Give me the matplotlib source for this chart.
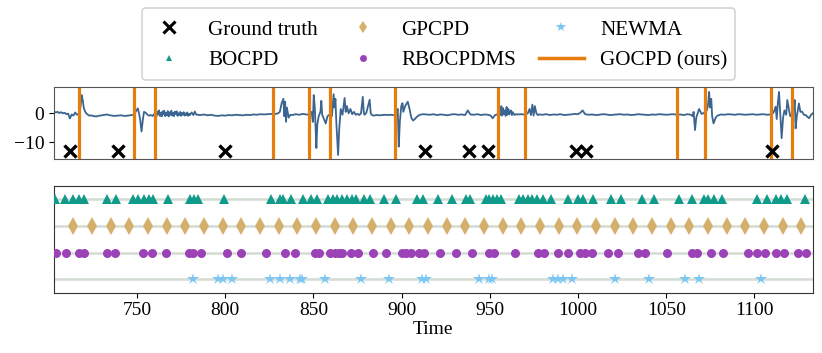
import matplotlib
matplotlib.use("Agg")
import matplotlib.pyplot as plt
from matplotlib.lines import Line2D
from matplotlib.patches import FancyBboxPatch
from matplotlib.transforms import IdentityTransform

plt.rcParams['font.family'] = ['Liberation Serif', 'DejaVu Serif']
plt.rcParams['mathtext.fontset'] = 'stix'
plt.rcParams['font.size'] = 14

# signal as (time, value) pairs
signal = [
    (703, 0.6), (704, 0.3), (705, 0.5), (706, 0.1), (707, 0.4), (708, 0.0), (709, 0.2),
    (710, -0.3), (711, -0.1), (712, -1.8), (713, -0.4), (714, -0.8), (715, 0.3), (716, -0.5),
    (717, -0.2), (718, 2.0), (718.7, 6.3), (719.3, 4.5), (720, 1.5), (721, 0.2), (722, -0.4),
    (723, -0.8), (724, -0.7), (725, -0.9), (726, -1.0), (727, -1.1), (728, -0.9), (729, -0.8),
    (731, -0.6), (732, -0.5), (733, -0.4), (734, -0.6), (735, -0.7), (737, -0.9), (739, -0.8),
    (741, -0.7), (743, -0.9), (745, -0.8), (747, -0.6),
    (748.5, -0.4), (749.5, 0.8), (750.5, 1.7), (751, 0.5), (751.8, -2.0), (752.6, -6.3),
    (753.3, -2.5), (754, 0.5), (755, 0.2), (756, -0.5), (757, -0.8), (758, -0.6), (759, -0.9),
    (760.5, 0.3), (761, -1.2), (761.5, 0.6), (762, -0.4), (762.5, 1.0), (763, -0.9),
    (763.5, 0.2), (764, -1.1), (764.5, 0.7), (765, -0.3), (765.5, 0.9), (766, -1.0),
    (766.5, 0.1), (767, -0.7), (767.5, 0.8), (768, -1.1), (768.5, 0.3), (769, -0.5),
    (769.5, 0.9), (770, -0.8), (770.5, 0.2), (771, -1.0), (771.5, 0.6), (772, -0.2),
    (772.5, 0.7), (773, -0.9), (773.5, 0.0), (774, -0.6), (774.5, 0.5), (775, -0.9),
    (775.5, 0.1), (776, -0.5), (776.5, 0.4), (777, -0.8), (777.5, -0.1), (778, -0.6),
    (778.5, 0.3), (779, -0.9), (779.5, -0.2), (780, -0.6), (781, 0.3), (782, -0.6),
    (782.8, 0.6), (783.5, -0.3), (784, -0.5), (786, -0.6), (788, -0.4), (790, -0.7),
    (792, -0.5), (794, -0.8), (796, -0.9), (798, -0.7), (800, -0.8), (802, -0.6), (804, -0.7),
    (806, -0.5), (808, -0.6), (810, -0.7), (812, -0.5), (814, -0.6), (816, -0.4), (818, -0.5),
    (820, -0.3), (822, -0.4), (824, -0.3), (826, -0.2), (828, -0.3), (830, 0.0), (831, 0.5),
    (832, 3.5), (833, 5.0), (833.5, -1.0), (834, 4.0), (834.5, -2.9), (835, 2.0), (836, -1.5),
    (837, -0.5), (838, -0.6), (840, -0.3), (842, -0.5), (844, -0.2), (846, -0.4), (848, -0.5),
    (849, 0.5), (849.7, -3.0), (850.2, 6.3), (850.8, 2.0), (851.3, -6.0), (851.7, -12.0),
    (852.2, -4.0), (853, -1.0), (854, 0.5), (854.5, 4.3), (855, -0.5), (856, -2.0),
    (857, -3.5), (858, -1.0), (859, -0.5), (860.5, -1.0), (861.5, 6.6), (862, 2.0),
    (862.5, 5.0), (863, -3.0), (864, -14.4), (864.7, -5.0), (865.5, 1.5), (866.5, -0.5),
    (867.2, 3.0), (867.7, 5.3), (868.3, 0.5), (869, 2.5), (870, 0.0), (871, 1.5), (872, -0.3),
    (873, 0.5), (874, -0.5), (875, -0.2), (876, -0.6), (877, 0.0), (878, 5.7), (878.6, 0.2),
    (879, -0.5), (880, 0.2), (881.9, 4.7), (882.5, 0.0), (883, -0.5), (884, -0.8),
    (886, -0.6), (888, -0.7), (890, -0.5), (892, -0.6), (894, -0.5), (896, -0.7),
    (897, -0.3), (897.8, 1.5), (898.4, -11.5), (899, -3.0), (899.8, 2.5), (900.5, 3.5),
    (901, 0.5), (902, 2.5), (903.5, 4.0), (904.5, 1.5), (905.5, -1.5), (906.5, -2.5),
    (907.5, -2.0), (908.5, -1.3), (910, -0.6), (912, -0.3), (914, -0.4), (916, -0.5),
    (918, -0.3), (920, -0.6), (922, -0.4), (924, -0.5), (926, -0.7), (928, -0.4), (930, -0.3),
    (932, -0.5), (934, -0.4), (936, -0.6), (937.5, 1.0), (939, -0.4), (941, -0.5), (943, -0.3),
    (945, -0.6), (947, -0.4), (949, -0.5), (950.5, -0.8), (951.6, -1.7), (953, -0.6),
    (955, -0.2), (955.5, 1.2), (956, -0.6), (956.5, 2.5), (957, -0.8), (957.5, 1.8),
    (958, -0.3), (958.5, 1.0), (959, -0.9), (959.5, 2.2), (960, -0.5), (960.5, 1.5),
    (961, -0.4), (961.5, 0.6), (962, 1.0), (962.5, -0.6), (963, 0.4), (964, -0.6), (964.8, -0.3),
    (966, -0.4), (968, -0.3), (970, -0.5), (971.5, 0.0), (972.5, 1.5), (973.3, -0.6),
    (974.1, 3.0), (974.8, -0.8), (975.5, 2.5), (976.4, 0.0), (977.2, -0.6), (978, -0.4),
    (980, -0.5), (982, -0.3), (984, -0.6), (986, -0.4), (988, -0.5), (990, -0.3), (992, -0.6),
    (994, -0.5), (996, -0.4), (998, -0.2), (1000, -0.3), (1001.5, 0.3), (1002.6, 1.0),
    (1004, -0.3), (1006, -0.5), (1008, -0.4), (1010, -0.6), (1012, -0.5), (1014, -0.3),
    (1016, -0.4), (1018, -0.6), (1020, -0.5), (1022, -0.4), (1024, -0.3), (1026, -0.5),
    (1028, -0.4), (1030, -0.6), (1032, -0.5), (1034, -0.3), (1036, -0.4), (1038, -0.5),
    (1040, -0.6), (1042, -0.4), (1044, -0.5), (1046, -0.3), (1048, -0.4), (1050, -0.5),
    (1052, -0.4), (1054, -0.3), (1056, -0.5), (1058, -0.4), (1060, -0.6), (1062, -0.3),
    (1064, -0.5), (1065, -1.0), (1065.5, 0.5), (1066.3, -5.8), (1067, -1.5), (1068.6, 1.5),
    (1070, -0.2), (1071, 0.0), (1073, 1.0), (1073.7, 3.0), (1074.3, 7.4), (1074.8, 2.0),
    (1075.5, 5.0), (1076, -1.0), (1076.8, -3.5), (1078, -1.5), (1079, -0.8), (1081, -0.4),
    (1083, -0.5), (1085, -0.3), (1087, -0.4), (1089, -0.5), (1091, -0.3), (1093, -0.4),
    (1095, -0.5), (1097, -0.4), (1099, -0.3), (1101, -0.5), (1103, -0.4), (1105, -0.3),
    (1107, -0.5), (1109, -0.4), (1110, -0.3), (1111, 0.5), (1112, 2.3), (1112.6, -2.0),
    (1113.3, 4.0), (1113.9, 7.4), (1114.5, 1.0), (1115.4, -8.6), (1116.2, -1.5), (1117, 1.0),
    (1118, -0.5), (1118.6, 4.6), (1119.6, 1.1), (1120.3, -1.0), (1121.5, 0.0), (1122.3, 2.0),
    (1122.8, 4.6), (1123.3, -5.2), (1124, -1.0), (1125.2, 3.4), (1126, 0.5), (1127, 0.6),
    (1128, -0.5), (1129, -0.6), (1130, -1.2), (1130.9, -1.7), (1132, -0.6), (1133, 0.0),
]
sig_t = [p[0] for p in signal]
sig_y = [p[1] for p in signal]

ground_truth = [712.1, 739.0, 799.8, 913.0, 938.4, 948.8, 998.8, 1004.5, 1109.7]
gocpd = [717.1, 748.3, 760.2, 827.1, 847.5, 859.6, 896.0, 954.4, 970.1, 1056.3,
         1071.8, 1109.5, 1121.0]
bocpd = [703.6, 709.2, 713.9, 717.1, 720.1, 733.2, 737.9, 747.9, 750.7, 753.9, 756.8,
         759.2, 767.7, 780.0, 782.4, 784.7, 799.2, 825.8, 830.9, 832.8, 837.5, 844.1,
         848.9, 852.1, 858.3, 860.9, 863.6, 866.3, 869.1, 871.7, 873.9, 878.5, 882.1,
         890.3, 896.6, 908.5, 912.4, 920.5, 928.3, 936.4, 938.5, 947.7, 949.5, 951.9,
         954.0, 956.6, 966.6, 968.8, 971.5, 974.1, 976.8, 980.3, 984.4, 994.3, 1000.0,
         1002.8, 1008.5, 1018.8, 1024.5, 1036.2, 1043.2, 1057.1, 1064.8, 1071.2, 1073.7,
         1077.3, 1081.7, 1101.5, 1107.3, 1112.0, 1115.3, 1118.4, 1128.6]
gpcpd = [713.9, 724.5, 735.1, 745.6, 756.2, 766.8, 777.4, 788.0, 798.5, 809.1, 819.7,
         830.3, 840.9, 851.4, 862.0, 872.6, 883.2, 893.8, 904.3, 914.9, 925.5, 936.1,
         946.7, 957.2, 967.8, 978.4, 989.0, 999.6, 1010.1, 1020.7, 1031.3, 1041.9,
         1052.5, 1063.0, 1073.6, 1084.2, 1094.8, 1105.4, 1115.9, 1126.5]
rbocpdms = [704.3, 709.8, 717.3, 720.1, 732.8, 737.5, 753.2, 758.6, 766.4, 779.6, 781.5,
            786.2, 801.1, 809.2, 823.4, 833.7, 839.4, 850.7, 853.2, 859.2, 862.0, 864.5,
            866.4, 871.5, 875.2, 883.7, 891.3, 900.1, 902.6, 905.1, 909.6, 912.6, 921.9,
            930.9, 939.8, 949.4, 952.2, 964.5, 977.1, 980.9, 988.4, 994.1, 1001.1, 1004.1,
            1007.9, 1016.7, 1022.8, 1034.1, 1038.1, 1050.4, 1064.8, 1067.7, 1075.6,
            1082.4, 1096.4, 1101.6, 1105.8, 1112.4, 1116.7, 1124.8, 1129.0]
newma = [781.5, 796.0, 798.5, 804.1, 825.3, 830.9, 836.6, 842.2, 843.5, 856.8, 877.2,
         892.8, 911.5, 913.9, 944.1, 949.8, 951.3, 985.6, 988.4, 991.3, 996.6, 1020.9,
         1040.3, 1060.7, 1068.6, 1103.6]

c_sig = '#3b6590'
c_gocpd = '#e77d0c'
c_bocpd = '#0f9a8a'
c_gpcpd = '#d4b06c'
c_rbo = '#9b42b6'
c_newma = '#7cc6f4'

fig = plt.figure(figsize=(8.22, 3.53), dpi=100)
ax1 = fig.add_axes([0.0657, 0.5496, 0.9230, 0.2031])
ax2 = fig.add_axes([0.0657, 0.1708, 0.9230, 0.3023])

ax1.plot(sig_t, sig_y, color=c_sig, lw=1.3)
for t in gocpd:
    ax1.axvline(t, color=c_gocpd, lw=2.3)
ax1.plot(ground_truth, [-13] * len(ground_truth), 'x', color='black', ms=9, mew=2.4)
ax1.set_xlim(703, 1133)
ax1.set_ylim(-15.8, 9)
ax1.set_yticks([0, -10])
ax1.set_xticks([])
for s in ax1.spines.values():
    s.set_color('#555555')

rows = [(bocpd, 3, '^', c_bocpd, 7.5), (gpcpd, 2, 'd', c_gpcpd, 9),
        (rbocpdms, 1, 'o', c_rbo, 6.5), (newma, 0, '*', c_newma, 9)]
for vals, yy, m, c, ms in rows:
    ax2.axhline(yy, color='#d3dbd3', lw=1.8, zorder=1)
    ax2.plot(vals, [yy] * len(vals), m, color=c, ms=ms, mew=0, zorder=3)
ax2.set_xlim(703, 1133)
ax2.set_ylim(-0.5, 3.5)
ax2.set_yticks([])
ax2.set_xticks([750, 800, 850, 900, 950, 1000, 1050, 1100])
ax2.set_xlabel('Time', labelpad=1)
for s in ax2.spines.values():
    s.set_color('#333333')

handles = [
    Line2D([], [], ls='none', marker='x', color='black', ms=8, mew=2.2),
    Line2D([], [], ls='none', marker='^', color=c_bocpd, ms=5, mew=0),
    Line2D([], [], ls='none', marker='d', color=c_gpcpd, ms=6, mew=0),
    Line2D([], [], ls='none', marker='o', color=c_rbo, ms=5, mew=0),
    Line2D([], [], ls='none', marker='*', color=c_newma, ms=7, mew=0),
    Line2D([], [], color=c_gocpd, lw=2.5),
]
labels = ['Ground truth', 'BOCPD', 'GPCPD', 'RBOCPDMS', 'NEWMA', 'GOCPD (ours)']
fig.legend(handles, labels, ncol=3, loc='upper center', bbox_to_anchor=(0.5315, 0.968),
           fontsize=15.2, handlelength=2.15, handletextpad=0.77, columnspacing=1.05,
           labelspacing=0.52, borderpad=0.4, borderaxespad=0, frameon=False)

# legend frame drawn in pixels so the box matches the original
frame = FancyBboxPatch((142, 353 - 80), 593, 72, boxstyle='round,pad=0,rounding_size=4',
                       transform=IdentityTransform(), facecolor='white', edgecolor='#cccccc',
                       lw=1, zorder=-1)
fig.patches.append(frame)

fig.savefig('out.png', dpi=100)
